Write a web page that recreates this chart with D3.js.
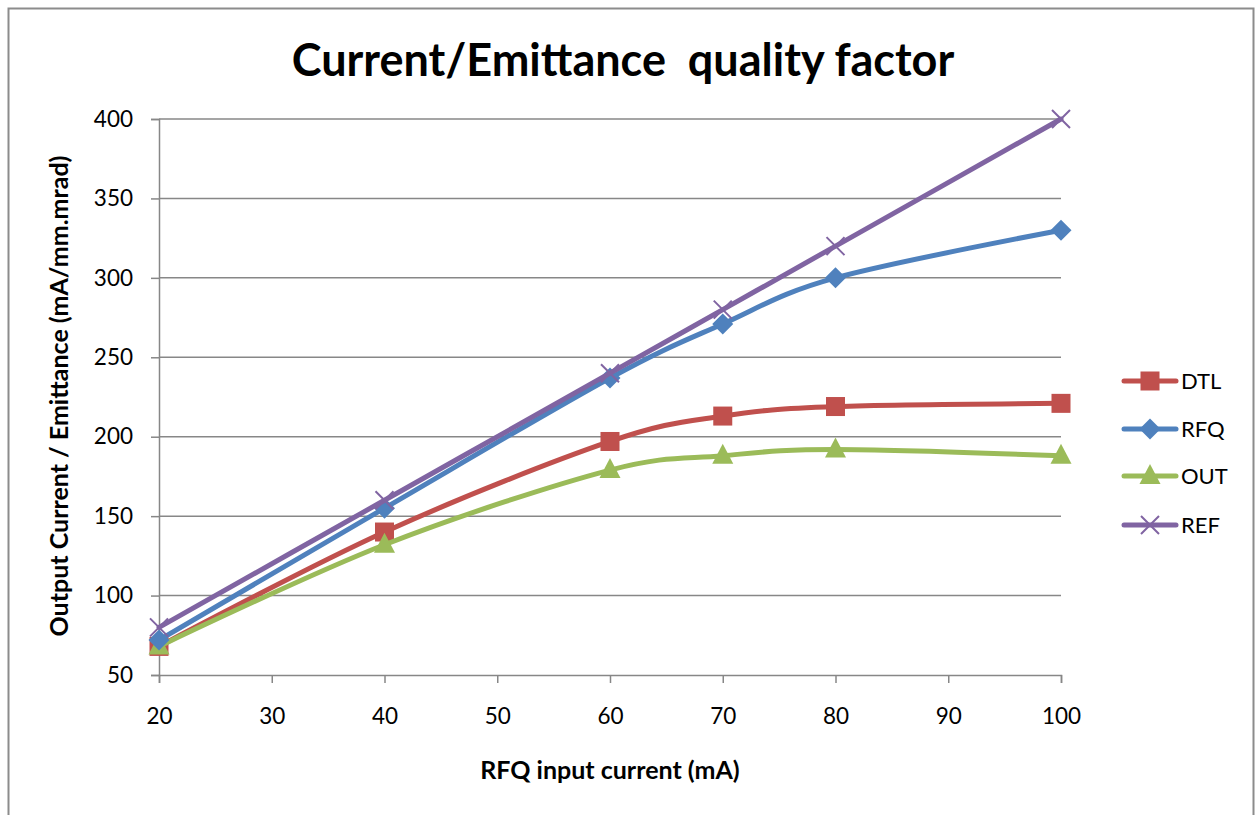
<!DOCTYPE html>
<html><head><meta charset="utf-8">
<script src="https://cdn.jsdelivr.net/npm/d3@7"></script>
<style>html,body{margin:0;padding:0;background:#fff;} svg{display:block;}</style>
</head><body>
<svg id="chart" width="1255" height="815"></svg>
<script>
const xValues = [20, 40, 60, 70, 80, 100];
const dtl = [68, 140, 197, 213, 219, 221];
const rfq = [72, 155, 237, 271, 300, 330];
const out = [68, 132, 179, 188, 192, 188];
const ref = [80, 160, 240, 280, 320, 400];
const xTicks = [20, 30, 40, 50, 60, 70, 80, 90, 100];
const yTicks = [50, 100, 150, 200, 250, 300, 350, 400];
const seriesNames = ["DTL", "RFQ", "OUT", "REF"];
const seriesColors = ["#C0504D", "#4F81BD", "#9BBB59", "#8064A2"];
const seriesMarkers = ["square", "diamond", "triangle", "cross"];
const seriesData = [dtl, rfq, out, ref];
const titleText = "Current/Emittance  quality factor";
const xLabel = "RFQ input current (mA)";
const yLabel = "Output Current / Emittance (mA/mm.mrad)";

(function () {
const svg = d3.select("#chart");
const FONT = "Lato, 'Open Sans', sans-serif";
const pLeft = 159, pRight = 1061, pTop = 119, pBottom = 675;

svg.append("path").attr("d", "M8.5,820 L8.5,8.5 L1253.5,8.5 L1253.5,820")
  .attr("fill", "none").attr("stroke", "#8c8c8c").attr("stroke-width", 2);

const x = d3.scaleLinear().domain([20, 100]).range([pLeft, pRight]);
const y = d3.scaleLinear().domain([50, 400]).range([pBottom, pTop]);

svg.append("g").selectAll("line").data(yTicks.slice(1)).join("line")
  .attr("x1", pLeft).attr("x2", pRight)
  .attr("y1", d => y(d)).attr("y2", d => y(d))
  .attr("stroke", "#878787").attr("stroke-width", 1.5);

const yAxis = svg.append("g").attr("transform", `translate(${pLeft},0)`)
  .call(d3.axisLeft(y).tickValues(yTicks).tickSize(8).tickPadding(18));
const xAxis = svg.append("g").attr("transform", `translate(0,${pBottom})`)
  .call(d3.axisBottom(x).tickValues(xTicks).tickSize(8).tickPadding(25));
[yAxis, xAxis].forEach(a => {
  a.select(".domain").attr("stroke", "#878787").attr("stroke-width", 1.5);
  a.selectAll(".tick line").attr("stroke", "#878787").attr("stroke-width", 1.5);
  a.selectAll(".tick text").attr("fill", "#000").style("font-family", FONT).style("font-size", "22.5px");
});

const line = d3.line().x(d => x(d[0])).y(d => y(d[1])).curve(d3.curveCardinal.tension(0));

function marker(g, type, color, cx, cy) {
  if (type === "square") {
    g.append("rect").attr("x", cx - 9.5).attr("y", cy - 9.5).attr("width", 19).attr("height", 19)
      .attr("fill", color);
  } else if (type === "diamond") {
    g.append("path").attr("d", `M${cx},${cy - 10.5}L${cx + 10.5},${cy}L${cx},${cy + 10.5}L${cx - 10.5},${cy}Z`)
      .attr("fill", color);
  } else if (type === "triangle") {
    g.append("path").attr("d", `M${cx},${cy - 12}L${cx + 10.5},${cy + 8}L${cx - 10.5},${cy + 8}Z`)
      .attr("fill", color);
  } else {
    g.append("path").attr("d", `M${cx - 9},${cy - 9}L${cx + 9},${cy + 9}M${cx + 9},${cy - 9}L${cx - 9},${cy + 9}`)
      .attr("stroke", color).attr("stroke-width", 2).attr("fill", "none");
  }
}

const order = [0, 2, 1, 3];
order.forEach(i => {
  const pts = xValues.map((xv, j) => [xv, seriesData[i][j]]);
  const g = svg.append("g");
  g.append("path").attr("d", line(pts)).attr("fill", "none")
    .attr("stroke", seriesColors[i]).attr("stroke-width", 5).attr("stroke-linejoin", "round").attr("stroke-linecap", "round");
  pts.forEach(p => marker(g, seriesMarkers[i], seriesColors[i], x(p[0]), y(p[1])));
});

const legendY = [381, 429, 476, 525];
seriesNames.forEach((n, i) => {
  const g = svg.append("g");
  g.append("line").attr("x1", 1124).attr("x2", 1176).attr("y1", legendY[i]).attr("y2", legendY[i])
    .attr("stroke", seriesColors[i]).attr("stroke-width", 5).attr("stroke-linecap", "round");
  marker(g, seriesMarkers[i], seriesColors[i], 1150, legendY[i]);
  g.append("text").attr("x", 1181).attr("y", legendY[i] + 8).text(n)
    .style("font-family", FONT).style("font-size", "22px").attr("fill", "#000");
});

svg.append("text").attr("x", 623).attr("y", 76).attr("text-anchor", "middle").text(titleText)
  .style("font-family", FONT).style("font-weight", "bold").style("font-size", "45px").style("white-space", "pre");
svg.append("text").attr("x", 610).attr("y", 779).attr("text-anchor", "middle").text(xLabel)
  .style("font-family", FONT).style("font-weight", "bold").style("font-size", "25px");
svg.append("text").attr("transform", "translate(68,396) rotate(-90)").attr("text-anchor", "middle").text(yLabel)
  .style("font-family", FONT).style("font-weight", "bold").style("font-size", "25px");
})();
</script>
</body></html>
